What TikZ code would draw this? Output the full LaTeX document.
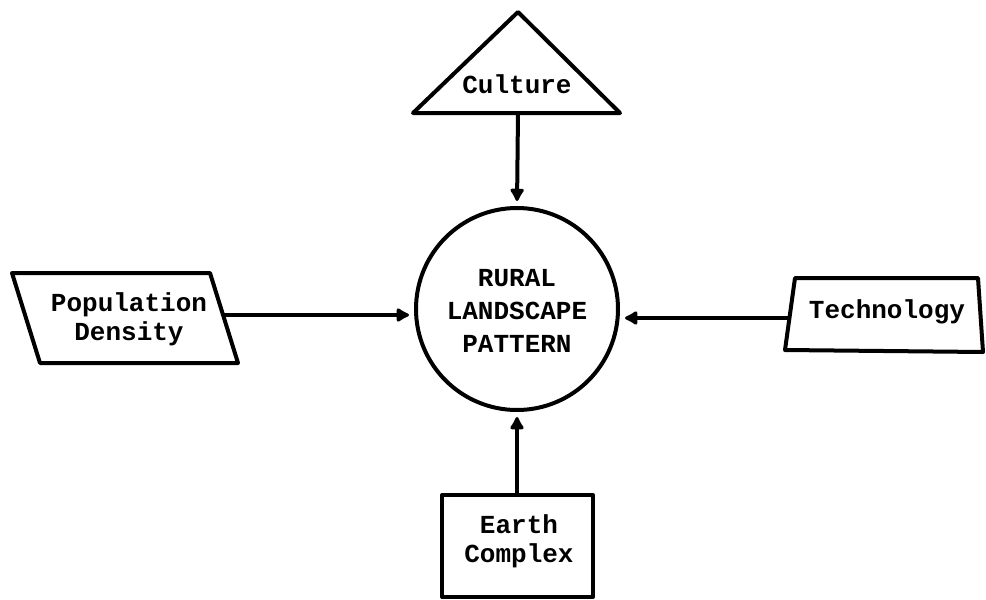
\documentclass[tikz,border=0pt]{standalone}
\usepackage{fontspec}
\newfontfamily\tw{Liberation Mono}
\usetikzlibrary{arrows.meta}
\begin{document}
\begin{tikzpicture}[x=1pt,y=-1pt,
  shapeline/.style={line width=4pt,line join=round},
  lbl/.style={font=\tw\bfseries\fontsize{26}{29}\selectfont,align=center,inner sep=0pt},
  conn/.style={line width=4pt,-{Latex[length=15pt,width=17pt,round]},shorten >=5pt}]
\useasboundingbox (0,0) rectangle (986,600);
% centre circle
\node[circle,draw,line width=4pt,minimum size=202pt,inner sep=0pt] (c) at (517,309) {};
\node[lbl,font=\tw\fontsize{26}{33}\selectfont\bfseries] (ct) at (517,311) {RURAL\\LANDSCAPE\\PATTERN};
% triangle
\draw[shapeline] (518,12) -- (620,113) -- (413,113) -- cycle;
\node[lbl] (cul) at (517,84) {Culture};
\coordinate (culb) at (518,113);
% parallelogram
\draw[shapeline] (12,273) -- (210,273) -- (238,363) -- (40,363) -- cycle;
\node[lbl] (pop) at (129,319) {Population\\Density};
\coordinate (popr) at (223,315);
% trapezoid
\draw[shapeline] (795,278) -- (978,278) -- (983,352) -- (785,350) -- cycle;
\node[lbl] (tech) at (887,312) {Technology};
\coordinate (techl) at (790,318);
% rectangle
\draw[shapeline] (442,495) rectangle (593,597);
\node[lbl] (earth) at (519,541) {Earth\\Complex};
\coordinate (eartht) at (517,495);
% connectors
\draw[conn] (culb) -- (c.north);
\draw[conn] (popr) -- (c.west |- popr);
\draw[conn] (techl) -- (c.east |- techl);
\draw[conn] (eartht) -- (c.south);
\end{tikzpicture}
\end{document}
